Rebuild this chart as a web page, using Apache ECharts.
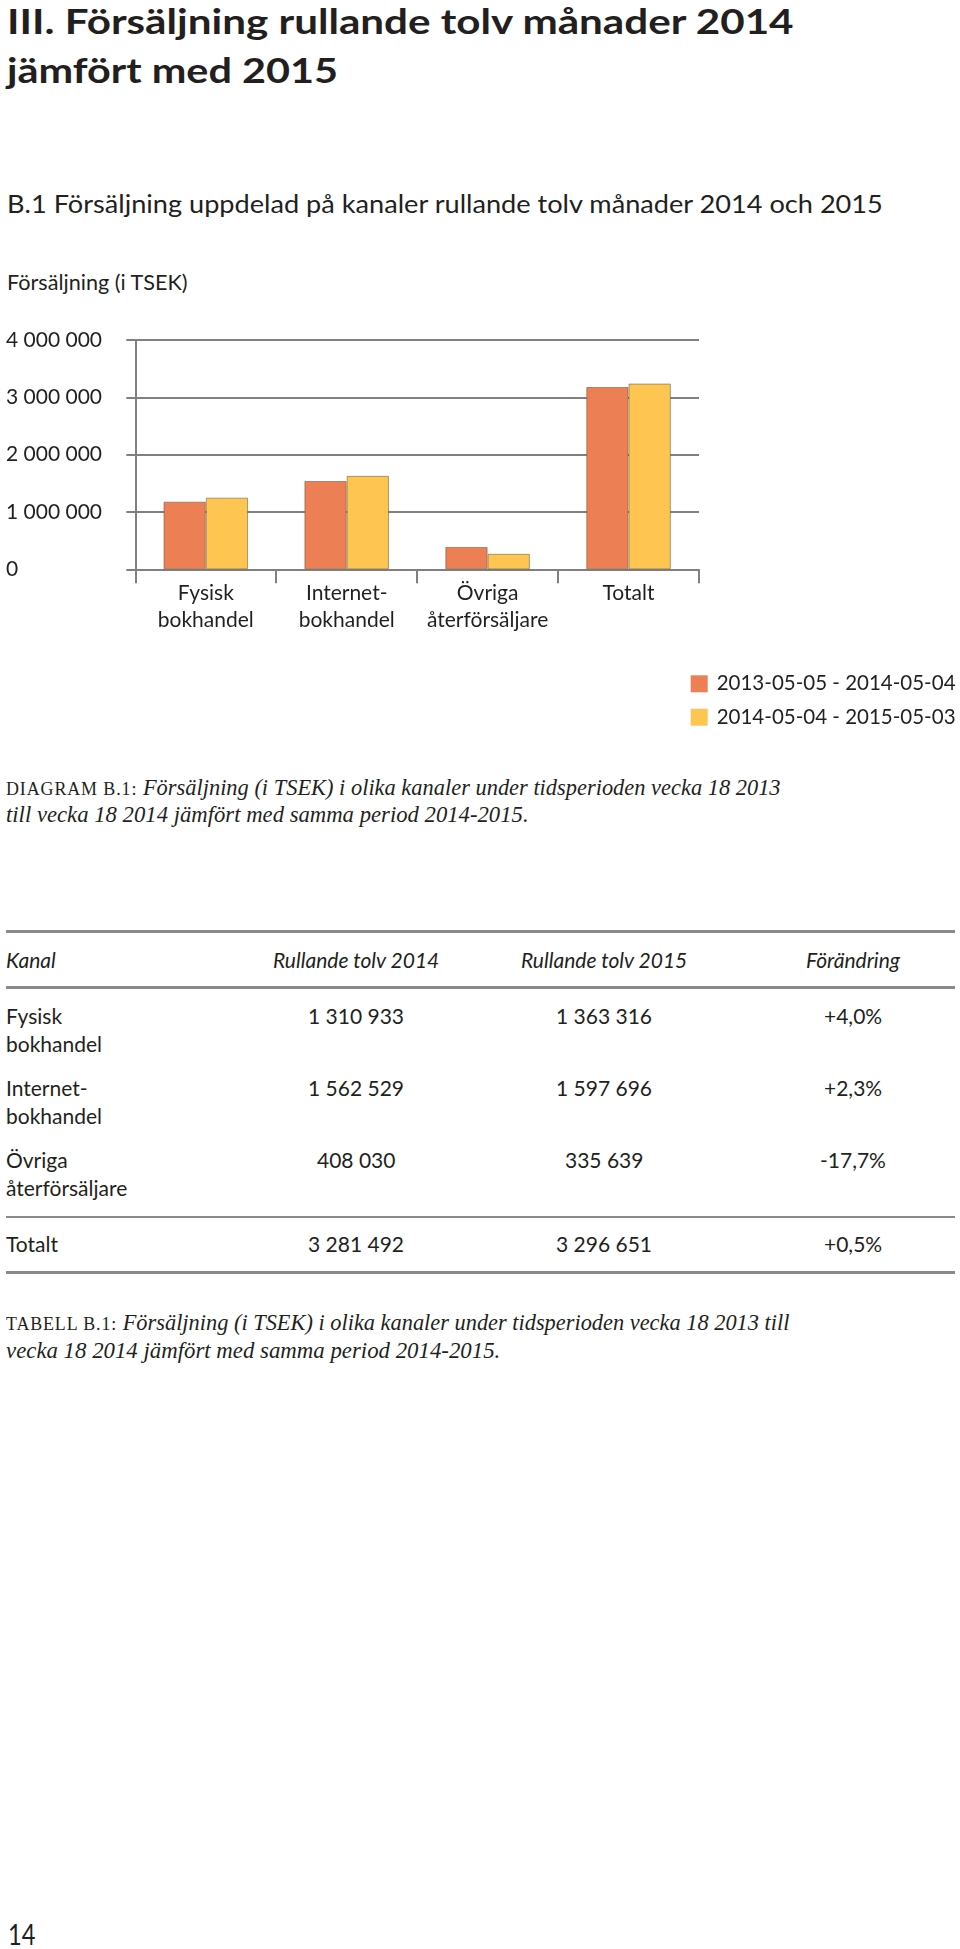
<!DOCTYPE html>
<html><head><meta charset="utf-8">
<script src="https://cdn.jsdelivr.net/npm/echarts@6/dist/echarts.min.js"></script>
<style>
html,body{margin:0;padding:0;background:#fff;}
body{width:960px;height:1949px;position:relative;overflow:hidden;color:#231f20;}
.t{position:absolute;white-space:nowrap;transform-origin:0 0;line-height:1;left:0;top:0;}
.sans{font-family:Lato,"Open Sans",sans-serif;}
.serif{font-family:"Liberation Serif","DejaVu Serif",serif;}
.sc{font-size:0.8em;font-style:normal;letter-spacing:0.05em;}
.rule{position:absolute;left:6px;width:949px;background:#8a8a8a;}
#chart{position:absolute;left:0;top:300px;width:960px;height:440px;}
</style></head><body>
<div id="chart"></div>

<div class="t sans" style="font-size:34px;font-weight:700" data-x="7" data-b="34" data-w="786">III. Försäljning rullande tolv månader 2014</div>
<div class="t sans" style="font-size:34px;font-weight:700" data-x="7" data-b="83" data-w="331">jämfört med 2015</div>
<div class="t sans" style="font-size:25px" data-x="7" data-b="213" data-w="876">B.1 Försäljning uppdelad på kanaler rullande tolv månader 2014 och 2015</div>
<div class="t sans" style="font-size:21px" data-x="7" data-b="289.5" data-w="181">Försäljning (i TSEK)</div>

<div class="t serif" style="font-size:23px" data-x="6" data-b="795" data-w="775"><span class="sc">DIAGRAM B.1:</span> <i>Försäljning (i TSEK) i olika kanaler under tidsperioden vecka 18 2013</i></div>
<div class="t serif" style="font-size:23px;font-style:italic" data-x="6" data-b="822" data-w="523">till vecka 18 2014 jämfört med samma period 2014-2015.</div>

<div class="rule" style="top:929.5px;height:3px"></div>
<div class="rule" style="top:986px;height:3px"></div>
<div class="rule" style="top:1215.7px;height:2px"></div>
<div class="rule" style="top:1271px;height:3px"></div>
<div id="table"></div>

<div class="t serif" style="font-size:23px" data-x="6" data-b="1330" data-w="783"><span class="sc">TABELL B.1:</span> <i>Försäljning (i TSEK) i olika kanaler under tidsperioden vecka 18 2013 till</i></div>
<div class="t serif" style="font-size:23px;font-style:italic" data-x="6" data-b="1358" data-w="494">vecka 18 2014 jämfört med samma period 2014-2015.</div>

<div class="t sans" style="font-size:28px" data-x="8" data-b="1945" data-w="27">14</div>

<script>
// ---- chart data ----
const categories = ["Fysisk\nbokhandel", "Internet-\nbokhandel", "Övriga\nåterförsäljare", "Totalt"];
const seriesNames = ["2013-05-05 - 2014-05-04", "2014-05-04 - 2015-05-03"];
const sales2014 = [1180000, 1540000, 390000, 3180000];
const sales2015 = [1250000, 1630000, 270000, 3240000];
const yMin = 0, yMax = 4000000, yStep = 1000000;

// ---- table data ----
const tableHeader = ["Kanal", "Rullande tolv 2014", "Rullande tolv 2015", "Förändring"];
const tableChannels = ["Fysisk\nbokhandel", "Internet-\nbokhandel", "Övriga\nåterförsäljare"];
const table2014 = ["1 310 933", "1 562 529", "408 030"];
const table2015 = ["1 363 316", "1 597 696", "335 639"];
const tableChange = ["+4,0%", "+2,3%", "-17,7%"];
const totalRow = ["Totalt", "3 281 492", "3 296 651", "+0,5%"];

// build table text
const tbl = document.getElementById('table');
const colX = [6, 356, 604, 853];
function addCell(text, x, b, align, italic) {
  const d = document.createElement('div');
  d.className = 't sans';
  d.style.fontSize = '21px';
  if (italic) d.style.fontStyle = 'italic';
  d.dataset.x = x; d.dataset.b = b; d.dataset.a = align;
  d.textContent = text;
  tbl.appendChild(d);
}
tableHeader.forEach((h, i) => addCell(h, colX[i], 968, i === 0 ? 'l' : 'c', true));
const rowBase = [1024, 1096, 1167.7];
tableChannels.forEach((c, r) => {
  c.split('\n').forEach((ln, k) => addCell(ln, colX[0], rowBase[r] + k * 28.3, 'l'));
  addCell(table2014[r], colX[1], rowBase[r], 'c');
  addCell(table2015[r], colX[2], rowBase[r], 'c');
  addCell(tableChange[r], colX[3], rowBase[r], 'c');
});
totalRow.forEach((v, i) => addCell(v, colX[i], 1252.3, i === 0 ? 'l' : 'c'));

function place(el) {
  const x = +el.dataset.x, b = +el.dataset.b, w = el.dataset.w ? +el.dataset.w : null, a = el.dataset.a || 'l';
  const m = document.createElement('span');
  m.style.cssText = 'display:inline-block;width:0;height:0;vertical-align:baseline';
  el.appendChild(m);
  const base = m.offsetTop;
  const nat = el.offsetWidth;
  const s = w ? w / nat : 1;
  const vis = nat * s;
  el.style.left = (a === 'c' ? x - vis / 2 : (a === 'r' ? x - vis : x)) + 'px';
  el.style.top = (b - base) + 'px';
  if (w) el.style.transform = 'scaleX(' + s + ')';
}
document.querySelectorAll('.t').forEach(place);

// ---- chart ----
const gray = '#808080';
const ink = '#231f20';
const chart = echarts.init(document.getElementById('chart'));
chart.setOption({
  animation: false,
  textStyle: { fontFamily: 'Lato' },
  grid: { left: 135.3, right: 261, top: 40, bottom: 170.7 },
  legend: {
    orient: 'vertical', left: 690.7, top: 373.3, padding: 0,
    itemWidth: 17, itemHeight: 17, itemGap: 12.4, icon: 'rect',
    itemStyle: { borderWidth: 0 },
    textStyle: { fontSize: 20.5, color: ink, fontFamily: 'Lato', lineHeight: 17, padding: [0, 0, 0, 4] },
    data: seriesNames
  },
  xAxis: {
    type: 'category', data: categories, boundaryGap: true,
    axisLine: { show: true, lineStyle: { color: gray, width: 2 } },
    axisTick: { show: true, length: 14, alignWithLabel: false, lineStyle: { color: gray, width: 2 } },
    axisLabel: { margin: 10, fontSize: 21, lineHeight: 27, color: ink, interval: 0, fontFamily: 'Lato' },
    splitLine: { show: false }
  },
  yAxis: {
    type: 'value', min: yMin, max: yMax, interval: yStep,
    axisLine: { show: true, lineStyle: { color: gray, width: 2 } },
    axisTick: { show: true, length: 9, lineStyle: { color: gray, width: 2 } },
    splitLine: { show: true, lineStyle: { color: gray, width: 2 } },
    axisLabel: {
      align: 'left', margin: 129.3, fontSize: 21, color: ink, fontFamily: 'Lato',
      formatter: v => String(v).replace(/\B(?=(\d{3})+(?!\d))/g, ' ')
    }
  },
  series: [
    { name: seriesNames[0], type: 'bar', data: sales2014, barGap: '0%', barCategoryGap: '40%',
      itemStyle: { color: '#EC7F53', borderColor: 'rgba(110,85,60,0.55)', borderWidth: 1 } },
    { name: seriesNames[1], type: 'bar', data: sales2015, barGap: '0%', barCategoryGap: '40%',
      itemStyle: { color: '#FEC550', borderColor: 'rgba(110,85,60,0.55)', borderWidth: 1 } }
  ]
});
</script>
</body></html>
